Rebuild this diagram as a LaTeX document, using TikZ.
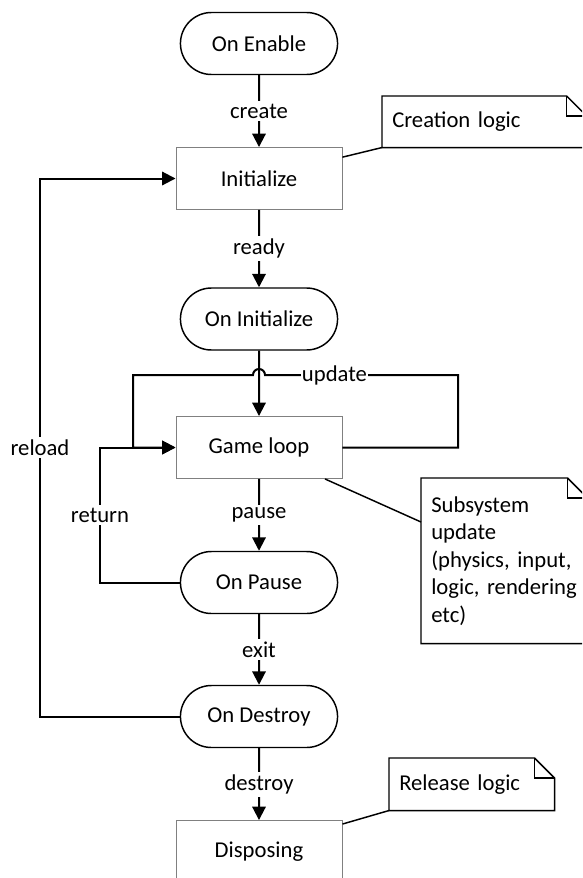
\documentclass[tikz,border=0pt]{standalone}
\usepackage{fontspec}
\setmainfont{Carlito}
\usetikzlibrary{shapes.misc,arrows.meta}

\newcommand{\notefold}[1]{%
\draw[noteline] (#1.south west) -- (#1.north west) -- ([xshift=-15pt]#1.north east) -- ([yshift=-15pt]#1.north east) -- (#1.south east) -- cycle;
\draw[noteline] ([xshift=-15pt]#1.north east) |- ([yshift=-15pt]#1.north east);}

\begin{document}
\begin{tikzpicture}[x=0.75pt,y=-0.75pt,font=\fontsize{17}{20.6}\selectfont]
\tikzstyle{term}=[shape=rounded rectangle,draw,line width=1.1pt,minimum width=124.5pt,minimum height=46.5pt,fill=white]
\tikzstyle{proc}=[shape=rectangle,draw=black!50,line width=0.7pt,minimum width=124.5pt,minimum height=46.5pt,fill=white]
\tikzstyle{flow}=[draw,line width=1.5pt,-{Triangle[length=10pt,width=10pt]}]
\tikzstyle{lbl}=[fill=white,inner xsep=1pt,inner ysep=2pt]
\tikzstyle{notetext}=[anchor=north west,inner xsep=7.5pt,inner ysep=0pt,align=left]
\tikzstyle{noteline}=[draw,line width=1.1pt]

\useasboundingbox (0,0) rectangle (582,878);
\clip (0,0) rectangle (582,878);

\node[term] (enable) at (259,43.5) {On Enable};
\node[proc] (init) at (259,178.5) {Initialize};
\node[term] (oninit) at (259,319) {On Initialize};
\node[proc] (loop) at (259,447.5) {Game loop};
\node[term] (pause) at (259,582.5) {On Pause};
\node[term] (destroy) at (259,716.5) {On Destroy};
\node[proc] (disp) at (259,851.5) {Disposing};

\node[notetext,text width=138pt,minimum height=38.25pt] (cre) at (382,96) {Creation logic};
\node[notetext,text width=109.5pt,minimum height=123.75pt] (sub) at (421,478) {Subsystem\\update\\(physics, input,\\logic, rendering\\etc)};
\node[notetext,text width=108.75pt,minimum height=39pt] (rel) at (389,758) {Release logic};
\notefold{cre}
\notefold{sub}
\notefold{rel}

\draw[flow] (enable) -- node[lbl]{create} (init);
\draw[flow] (init) -- node[lbl]{ready} (oninit);
\draw[flow] (oninit) -- (loop);
\draw[flow] (loop) -- node[lbl]{pause} (pause);
\draw[flow] (pause) -- node[lbl]{exit} (destroy);
\draw[flow] (destroy) -- node[lbl]{destroy} (disp);

% loops back
\draw[flow] (loop.east) -- (458,447.5) -- (458,375) -- node[lbl,pos=0.64]{update} (265,375) arc[start angle=0,end angle=-180,radius=6] -- (133,375) -- (133,447.5) -- (loop.west);
\draw[flow] (pause.west) -- (100,582.5) -- node[lbl]{return} (100,447.5) -- (loop.west);
\draw[flow] (destroy.west) -- (40,716.5) -- node[lbl]{reload} (40,178.5) -- (init.west);

% notes
\draw[noteline] ([yshift=16pt]init.east) -- (cre.south west);
\draw[noteline] ([xshift=49.5pt]loop.south) -- ([yshift=-33pt]sub.north west);
\draw[noteline] ([yshift=-3pt]disp.north east) -- (rel.south west);
\end{tikzpicture}
\end{document}
